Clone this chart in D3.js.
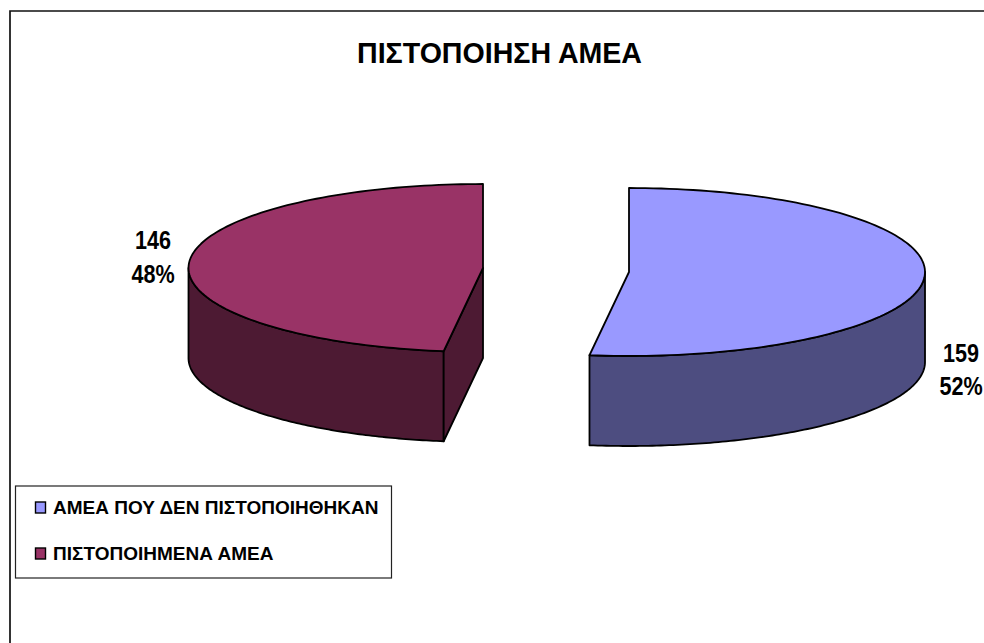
<!DOCTYPE html>
<html>
<head>
<meta charset="utf-8">
<script src="https://cdn.jsdelivr.net/npm/d3@7"></script>
<style>
    body { margin: 0; background: #fff; }
    text { font-family: "Liberation Sans", Arial, sans-serif; font-weight: bold; fill: #000; }
</style>
</head>
<body>
<div id="chart"></div>
<script>
const title = "ΠΙΣΤΟΠΟΙΗΣΗ ΑΜΕΑ";
const categories = ["ΑΜΕΑ ΠΟΥ ΔΕΝ ΠΙΣΤΟΠΟΙΗΘΗΚΑΝ", "ΠΙΣΤΟΠΟΙΗΜΕΝΑ ΑΜΕΑ"];
const values = [159, 146];
const percents = ["52%", "48%"];
const topColors = ["#9999ff", "#993366"];
const sideColors = ["#4d4d80", "#4d1a33"];

const width = 984, height = 643;
const ry = 84, depth = 90;
// where each exploded slice has its apex, and its horizontal radius
const apex = [{x: 629, y: 272, rx: 296}, {x: 483, y: 268, rx: 294.5}];
const labelPos = [{x: 961, y: 362, y2: 395}, {x: 153, y: 249, y2: 283}];

const svg = d3.select("#chart").append("svg")
    .attr("width", width)
    .attr("height", height)
    .style("display", "block");

// chart frame, open on the right and bottom like the picture
svg.append("path")
    .attr("d", "M10,643V11H984")
    .attr("fill", "none")
    .attr("stroke", "#111")
    .attr("stroke-width", 1.7);

const arcs = d3.pie().sort(null)(values);

const unitX = d3.scaleLinear().domain([-1, 1]).range([-1, 1]);
const unitY = d3.scaleLinear().domain([-1, 1]).range([-ry, ry]);

// point on the rim of the tilted pie, angle clockwise from the top
const rim = (a, c, dy = 0) => [c.x + c.rx * unitX(Math.sin(a)), c.y + unitY(-Math.cos(a)) + dy];
const angles = (a0, a1) => d3.range(0, 121).map(i => a0 + (a1 - a0) * i / 120);
const line = d3.line();

const slices = svg.selectAll(".slice")
    .data(arcs)
    .enter()
    .append("g")
    .attr("class", "slice")
    .attr("stroke", "#000")
    .attr("stroke-width", 1.8)
    .attr("stroke-linejoin", "round");

// outer wall: only the front half of the rim shows
slices.append("path")
    .attr("fill", (d, i) => sideColors[i])
    .attr("d", (d, i) => {
        const a0 = Math.max(d.startAngle, Math.PI / 2);
        const a1 = Math.min(d.endAngle, Math.PI * 3 / 2);
        const as = angles(a0, a1);
        const upper = as.map(a => rim(a, apex[i]));
        const lower = as.slice().reverse().map(a => rim(a, apex[i], depth));
        return line(upper.concat(lower)) + "Z";
    });

// cut face, visible on the left slice only
slices.filter((d, i) => i === 1).append("path")
    .attr("fill", sideColors[1])
    .attr("d", d => {
        const c = apex[1];
        const p = rim(d.startAngle, c);
        return line([p, [c.x, c.y], [c.x, c.y + depth], [p[0], p[1] + depth]]) + "Z";
    });

// top surface
slices.append("path")
    .attr("fill", (d, i) => topColors[i])
    .attr("d", (d, i) => {
        const pts = angles(d.startAngle, d.endAngle).map(a => rim(a, apex[i]));
        return line([[apex[i].x, apex[i].y]].concat(pts)) + "Z";
    });

// data labels, the source font is narrow and tall
const labels = svg.selectAll(".label")
    .data(arcs)
    .enter()
    .append("g")
    .attr("class", "label")
    .attr("text-anchor", "middle")
    .style("font-size", "26px");

labels.append("text")
    .attr("transform", (d, i) => `translate(${labelPos[i].x},${labelPos[i].y}) scale(0.83,1)`)
    .text(d => d.value);

labels.append("text")
    .attr("transform", (d, i) => `translate(${labelPos[i].x},${labelPos[i].y2}) scale(0.83,1)`)
    .text((d, i) => percents[i]);

svg.append("text")
    .attr("x", 499.5)
    .attr("y", 63)
    .attr("text-anchor", "middle")
    .attr("textLength", 285)
    .attr("lengthAdjust", "spacingAndGlyphs")
    .style("font-size", "29px")
    .text(title);

// legend
svg.append("rect")
    .attr("x", 15.5)
    .attr("y", 486)
    .attr("width", 376)
    .attr("height", 92)
    .attr("fill", "#fff")
    .attr("stroke", "#222")
    .attr("stroke-width", 1.2);

const legendY = d3.scalePoint().domain(categories).range([507.5, 553.5]);

const legend = svg.selectAll(".legend")
    .data(categories)
    .enter()
    .append("g")
    .attr("class", "legend");

legend.append("rect")
    .attr("x", 35.5)
    .attr("y", d => legendY(d) - 5.5)
    .attr("width", 10)
    .attr("height", 11)
    .attr("fill", (d, i) => topColors[i])
    .attr("stroke", "#000")
    .attr("stroke-width", 1.4);

legend.append("text")
    .attr("x", 53)
    .attr("y", d => legendY(d) + 6.8)
    .style("font-size", "19px")
    .text(d => d);
</script>
</body>
</html>
